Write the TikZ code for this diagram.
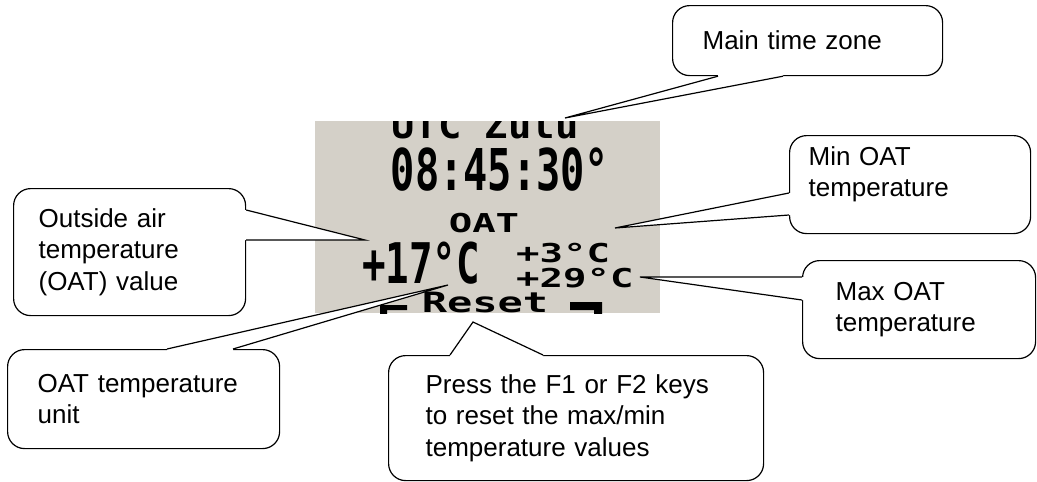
\documentclass[tikz,border=0pt]{standalone}
\usepackage{fontspec}
\setmainfont{Liberation Sans}
\newfontfamily\lcdbig[FakeStretch=0.70]{DejaVu Sans Mono}
\newfontfamily\lcdmid[FakeStretch=1.08]{DejaVu Sans Mono}
\newfontfamily\lcdsmall[FakeStretch=1.5]{DejaVu Sans Mono}
\usetikzlibrary{calc, positioning}
\definecolor{lcdgray}{RGB}{212,208,200}

\tikzset{
  callbox/.style={draw, fill=white, line width=1.2pt, rounded corners=17pt,
    align=left, anchor=north west, font=\fontsize{26}{31.5}\selectfont},
  lcdtext/.style={inner sep=0pt, anchor=base},
  pointer/.style={draw, line width=1.2pt, line join=miter},
}

\begin{document}
\begin{tikzpicture}[x=1pt, y=-1pt]
  \useasboundingbox (0,0) rectangle (1037,482);

  % the display
  \node[fill=lcdgray, minimum width=345pt, minimum height=192pt, inner sep=0pt, anchor=north west] (lcd) at (315,121) {};
  \begin{scope}
    \clip (lcd.north west) rectangle (lcd.south east);
    \node[lcdtext, font=\lcdmid\bfseries\fontsize{36}{36}\selectfont] (zulu) at (485,138) {UTC Zulu};
    \node[lcdtext, font=\lcdbig\bfseries\fontsize{57.6}{60}\selectfont] (clock) at (500,190) {08:45:30°};
    \node[lcdtext, font=\lcdsmall\bfseries\fontsize{26}{26}\selectfont] (oat) at (484,232) {OAT};
    \node[lcdtext, font=\lcdbig\bfseries\fontsize{56}{60}\selectfont] (oatnow) at (421,283) {+17°C};
    \node[lcdtext, anchor=base west, font=\lcdsmall\bfseries\fontsize{26}{26}\selectfont] (oatlow) at (516,262) {+3°C};
    \node[lcdtext, anchor=base west, font=\lcdsmall\bfseries\fontsize{26}{26}\selectfont] (oathigh) at (516,287) {+29°C};
    \node[lcdtext, font=\lcdsmall\bfseries\fontsize{28}{28}\selectfont] (reset) at (485,312) {Reset};
    % key brackets
    \fill (380,305) rectangle (407,310) (380,305) rectangle (387,316);
    \fill (570,302) rectangle (602,310) (594,302) rectangle (602,316);
  \end{scope}

  % where the pointers end
  \coordinate (zonetip) at (565,118);
  \coordinate (valtip) at (365,240);
  \coordinate (mintip) at (615,228);
  \coordinate (maxtip) at (640,277);
  \coordinate (unittip) at (448,285);
  \coordinate (resettip) at (473,322);

  % callouts
  \node[callbox, minimum width=270pt, minimum height=70pt, text width=210pt] (zone) at (672,5) {Main time zone};
  \node[callbox, minimum width=232pt, minimum height=127pt, text width=182pt] (oatval) at (13,188)
    {Outside air\\temperature\\(OAT) value};
  \node[callbox, minimum width=241pt, minimum height=98pt, text width=203pt, text depth=58pt] (oatmin) at (789,135)
    {Min OAT\\temperature};
  \node[callbox, minimum width=233pt, minimum height=98pt, text width=167pt] (oatmax) at (802,260)
    {Max OAT\\temperature};
  \node[callbox, minimum width=272pt, minimum height=99pt, text width=212pt] (oatunit) at (7,349)
    {OAT temperature\\unit};
  \node[callbox, minimum width=375pt, minimum height=125pt, text width=301pt] (keys) at (388,355)
    {Press the F1 or F2 keys\\to reset the max/min\\temperature values};

  % pointers
  \fill[white] ($(zone.south west)+(46,0)$) -- (zonetip) -- ($(zone.south west)+(111,0)$)
    -- ($(zone.south west)+(111,-3)$) -- ($(zone.south west)+(46,-3)$) -- cycle;
  \draw[pointer] ($(zone.south west)+(46,0)$) -- (zonetip) -- ($(zone.south west)+(111,0)$);

  \fill[white] ($(oatval.north east)+(0,22)$) -- (valtip) -- ($(oatval.north east)+(0,52)$)
    -- ($(oatval.north east)+(-3,52)$) -- ($(oatval.north east)+(-3,22)$) -- cycle;
  \draw[pointer] ($(oatval.north east)+(0,22)$) -- (valtip) -- ($(oatval.north east)+(0,52)$);

  \fill[white] ($(oatmin.north west)+(0,58)$) -- (mintip) -- ($(oatmin.north west)+(0,80)$)
    -- ($(oatmin.north west)+(3,80)$) -- ($(oatmin.north west)+(3,58)$) -- cycle;
  \draw[pointer] ($(oatmin.north west)+(0,58)$) -- (mintip) -- ($(oatmin.north west)+(0,80)$);

  \fill[white] ($(oatmax.north west)+(0,17)$) -- (maxtip) -- ($(oatmax.north west)+(0,40)$)
    -- ($(oatmax.north west)+(3,40)$) -- ($(oatmax.north west)+(3,17)$) -- cycle;
  \draw[pointer] ($(oatmax.north west)+(0,17)$) -- (maxtip) -- ($(oatmax.north west)+(0,40)$);

  \fill[white] ($(oatunit.north west)+(160,0)$) -- (unittip) -- ($(oatunit.north west)+(226,0)$)
    -- ($(oatunit.north west)+(226,3)$) -- ($(oatunit.north west)+(160,3)$) -- cycle;
  \draw[pointer] ($(oatunit.north west)+(160,0)$) -- (unittip) -- ($(oatunit.north west)+(226,0)$);

  \fill[white] ($(keys.north west)+(62,0)$) -- (resettip) -- ($(keys.north west)+(155,0)$)
    -- ($(keys.north west)+(155,3)$) -- ($(keys.north west)+(62,3)$) -- cycle;
  \draw[pointer] ($(keys.north west)+(62,0)$) -- (resettip) -- ($(keys.north west)+(155,0)$);
\end{tikzpicture}
\end{document}
